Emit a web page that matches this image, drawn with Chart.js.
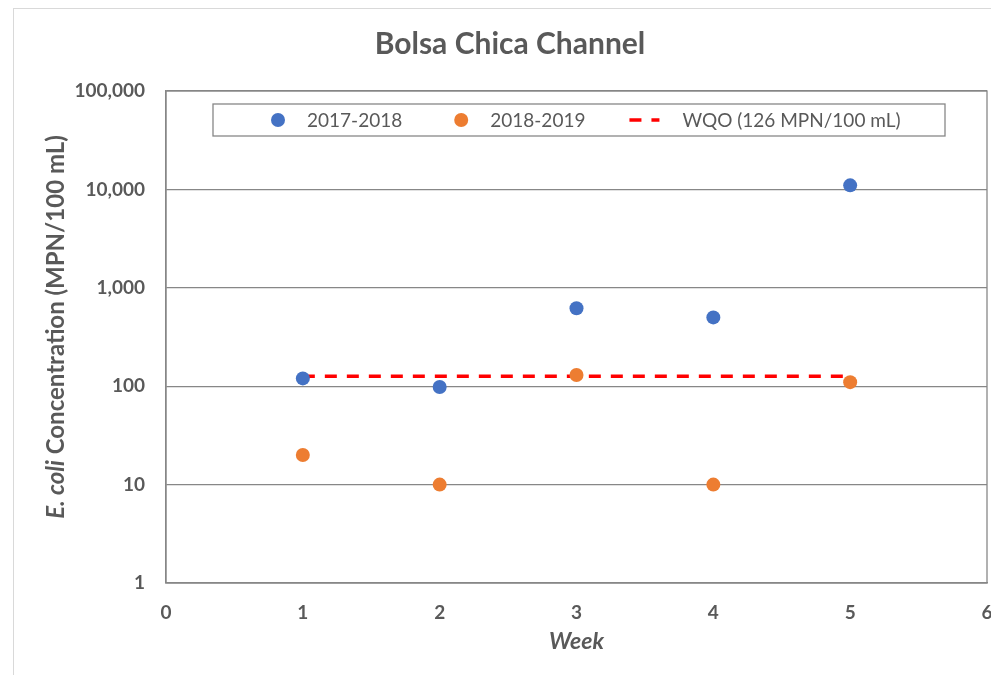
<!DOCTYPE html>
<html>
<head>
<meta charset="utf-8">
<script src="https://cdn.jsdelivr.net/npm/chart.js@4"></script>
<style>
  html, body { margin: 0; padding: 0; background: #fff; overflow: hidden; }
  #wrap { position: relative; width: 991px; height: 675px; }
</style>
</head>
<body>
<div id="wrap"><canvas id="chart"></canvas></div>
<script>
const weeks = [1, 2, 3, 4, 5];
const season1718 = [120, 98, 620, 500, 11000];
const season1819 = [20, 10, 130, 10, 110];
const wqoValue = 126;
const yTicks = [1, 10, 100, 1000, 10000, 100000];

const textColor = "#595959";
const gridColor = "#878787";
const fontFamily = "Lato, 'Open Sans', sans-serif";

// frame, chart title, plot border, y axis title with italic part, legend inside the plot
const decor = {
  id: "decor",
  beforeDraw(chart) {
    const ctx = chart.ctx;
    ctx.save();
    ctx.strokeStyle = "#d9d9d9";
    ctx.lineWidth = 1;
    ctx.strokeRect(13.5, 8.5, 1000, 700);
    ctx.fillStyle = textColor;
    ctx.font = "bold 30px " + fontFamily;
    ctx.textAlign = "center";
    ctx.textBaseline = "alphabetic";
    ctx.fillText("Bolsa Chica Channel", 510, 54);
    ctx.restore();
  },
  beforeDatasetsDraw(chart) {
    const ctx = chart.ctx, ca = chart.chartArea;
    ctx.save();
    ctx.strokeStyle = gridColor;
    ctx.lineWidth = 1.3;
    ctx.strokeRect(ca.left, ca.top, ca.right - ca.left, ca.bottom - ca.top);
    ctx.restore();
  },
  afterDraw(chart) {
    const ctx = chart.ctx, ca = chart.chartArea;
    // y axis title
    ctx.save();
    ctx.translate(56, (ca.top + ca.bottom) / 2 - 10);
    ctx.rotate(-Math.PI / 2);
    ctx.fillStyle = textColor;
    ctx.textBaseline = "middle";
    ctx.textAlign = "left";
    const f1 = "italic bold 24px " + fontFamily;
    const f2 = "bold 24px " + fontFamily;
    const p1 = "E. coli", p2 = " Concentration (MPN/100 mL)";
    ctx.font = f1; const w1 = ctx.measureText(p1).width;
    ctx.font = f2; const w2 = ctx.measureText(p2).width;
    let x = -(w1 + w2) / 2;
    ctx.font = f1; ctx.fillText(p1, x, 0);
    ctx.font = f2; ctx.fillText(p2, x + w1, 0);
    ctx.restore();

    // legend box
    const bx = ca.left + 47, by = ca.top + 13, bw = ca.right - 42 - bx, bh = 32;
    ctx.save();
    ctx.fillStyle = "#fff";
    ctx.fillRect(bx, by, bw, bh);
    ctx.strokeStyle = gridColor;
    ctx.lineWidth = 1.3;
    ctx.strokeRect(bx, by, bw, bh);
    ctx.font = "19px " + fontFamily;
    ctx.textBaseline = "middle";
    const cy = by + bh / 2;
    let sx = bx + 50;
    chart.data.datasets.forEach(ds => {
      if (ds.showLine) {
        ctx.strokeStyle = ds.borderColor;
        ctx.lineWidth = ds.borderWidth;
        ctx.setLineDash(ds.borderDash);
        ctx.beginPath();
        ctx.moveTo(sx, cy); ctx.lineTo(sx + 30, cy);
        ctx.stroke();
        ctx.setLineDash([]);
      } else {
        ctx.fillStyle = ds.backgroundColor;
        ctx.beginPath();
        ctx.arc(sx + 15, cy, 7, 0, Math.PI * 2);
        ctx.fill();
      }
      const tx = sx + (ds.showLine ? 53 : 44);
      ctx.fillStyle = textColor;
      ctx.fillText(ds.label, tx, cy + 1);
      sx = tx + ctx.measureText(ds.label).width + 44;
    });
    ctx.restore();
  }
};

new Chart(document.getElementById("chart"), {
  type: "scatter",
  data: {
    datasets: [
      {
        label: "2017-2018",
        data: weeks.map((w, i) => ({ x: w, y: season1718[i] })),
        backgroundColor: "#4472C4",
        borderColor: "#4472C4",
        pointRadius: 7,
        pointBorderWidth: 0,
        order: 1
      },
      {
        label: "2018-2019",
        data: weeks.map((w, i) => ({ x: w, y: season1819[i] })),
        backgroundColor: "#ED7D31",
        borderColor: "#ED7D31",
        pointRadius: 7,
        pointBorderWidth: 0,
        order: 2
      },
      {
        label: "WQO (126 MPN/100 mL)",
        data: weeks.map(w => ({ x: w, y: wqoValue })),
        showLine: true,
        borderColor: "#FF0000",
        backgroundColor: "#FF0000",
        borderWidth: 3.5,
        borderDash: [12, 10],
        pointRadius: 0,
        order: 3
      }
    ]
  },
  options: {
    responsive: true,
    maintainAspectRatio: false,
    animation: false,
    layout: { autoPadding: false, padding: { top: 91, right: 4, left: 0, bottom: 0 } },
    plugins: {
      legend: { display: false },
      tooltip: { enabled: false },
      title: { display: false }
    },
    scales: {
      x: {
        type: "linear",
        min: 0,
        max: 6,
        ticks: {
          stepSize: 1,
          color: textColor,
          padding: 18,
          font: { size: 19, weight: "bold", family: fontFamily }
        },
        grid: { display: false, drawTicks: false },
        border: { display: true, color: gridColor, width: 1.3 },
        title: {
          display: true,
          text: "Week",
          color: textColor,
          font: { size: 23, weight: "bold", style: "italic", family: fontFamily },
          padding: { top: 6, bottom: 20 }
        },
        afterFit(scale) {
          scale.paddingLeft = 0;
          scale.paddingRight = 0;
          scale.height = 92;
        }
      },
      y: {
        type: "logarithmic",
        min: 1,
        max: 100000,
        afterBuildTicks(scale) {
          scale.ticks = yTicks.map(v => ({ value: v }));
        },
        ticks: {
          color: textColor,
          padding: 21,
          font: { size: 19, weight: "bold", family: fontFamily },
          callback: v => Number(v).toLocaleString("en-US")
        },
        grid: { color: gridColor, lineWidth: 1.3, drawTicks: false },
        border: { display: true, color: gridColor, width: 1.3 },
        afterFit(scale) {
          scale.width = 166;
        }
      }
    }
  },
  plugins: [decor]
});
</script>
</body>
</html>
